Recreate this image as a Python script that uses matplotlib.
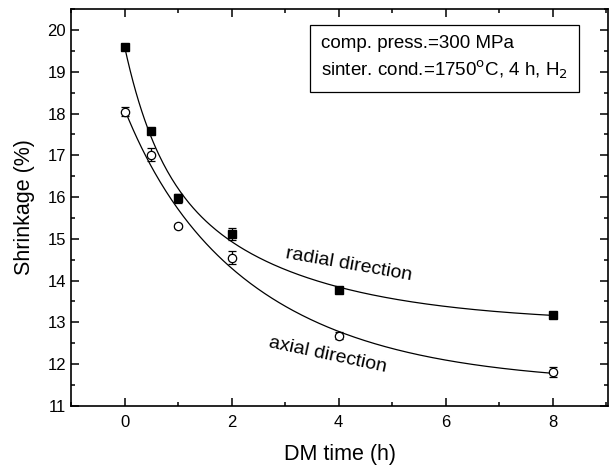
import numpy as np
import matplotlib
matplotlib.use("Agg")
import matplotlib.pyplot as plt
from matplotlib.ticker import MultipleLocator

plt.rcParams['font.family'] = ['Liberation Sans', 'DejaVu Sans']

dm_time = [0, 0.5, 1, 2, 4, 8]
radial = [19.59, 17.58, 15.97, 15.11, 13.77, 13.18]
radial_err = [0.05, 0.05, 0.10, 0.15, 0.05, 0.05]
axial = [18.05, 17.02, 15.31, 14.55, 12.68, 11.80]
axial_err = [0.10, 0.15, 0.05, 0.15, 0.08, 0.12]

xlabel = "DM time (h)"
ylabel = "Shrinkage (%)"
box_lines = ["comp. press.=300 MPa", r"sinter. cond.=1750$^{\rm o}$C, 4 h, H$_2$"]


def fit_exp2(x, y):
    """Least-squares fit of y0 + A1*exp(-x/t1) + A2*exp(-x/t2)."""
    x = np.asarray(x, float)
    y = np.asarray(y, float)
    best = None
    for t1 in np.linspace(0.2, 2.0, 46):
        for t2 in np.linspace(1.0, 12.0, 56):
            if t2 <= t1:
                continue
            A = np.column_stack([np.ones_like(x), np.exp(-x / t1), np.exp(-x / t2)])
            coef, *_ = np.linalg.lstsq(A, y, rcond=None)
            if coef[1] < 0 or coef[2] < 0:
                continue
            r = np.sum((A @ coef - y) ** 2)
            if best is None or r < best[0]:
                best = (r, coef, t1, t2)
    _, (y0, a1, a2), t1, t2 = best
    return lambda t: y0 + a1 * np.exp(-t / t1) + a2 * np.exp(-t / t2)


fig = plt.figure(figsize=(6.09, 4.66), dpi=100)
ax = fig.add_axes([0.1166, 0.1294, 0.882, 0.8506])

xs = np.linspace(0, 8, 300)
fr = fit_exp2(dm_time, radial)
fa = fit_exp2(dm_time, axial)
ax.plot(xs, fr(xs), color='black', lw=0.9)
ax.plot(xs, fa(xs), color='black', lw=0.9)

ax.errorbar(dm_time, radial, yerr=radial_err, fmt='s', color='black',
            mfc='black', mec='black', ms=5.5, capsize=3, elinewidth=0.9, capthick=0.9)
ax.errorbar(dm_time, axial, yerr=axial_err, fmt='o', color='black',
            mfc='white', mec='black', ms=6, mew=0.9, capsize=3, elinewidth=0.9, capthick=0.9)

ax.set_xlim(-1, 9.04)
ax.set_ylim(11, 20.5)
ax.xaxis.set_major_locator(MultipleLocator(2))
ax.xaxis.set_minor_locator(MultipleLocator(1))
ax.yaxis.set_major_locator(MultipleLocator(1))
ax.yaxis.set_minor_locator(MultipleLocator(0.5))
ax.tick_params(which='both', direction='in', top=True, right=True, labelsize=12, width=1.1)
ax.tick_params(which='major', length=5.5)
ax.tick_params(which='minor', length=3)
ax.tick_params(axis='x', pad=7)
for s in ax.spines.values():
    s.set_linewidth(1.2)

ax.set_xlabel(xlabel, fontsize=15.5, labelpad=10)
ax.set_ylabel(ylabel, fontsize=15.5, labelpad=9)

ax.text(4.2, 14.37, "radial direction", fontsize=14, rotation=-10,
        ha='center', va='center')
ax.text(3.79, 12.21, "axial direction", fontsize=14, rotation=-12,
        ha='center', va='center')

ax.text(0.465, 0.935, box_lines[0] + "\n" + box_lines[1], transform=ax.transAxes,
        fontsize=13.5, ha='left', va='top', linespacing=1.35,
        bbox=dict(boxstyle='square,pad=0.6', fc='white', ec='black', lw=0.9))

fig.savefig("out.png", dpi=100)
